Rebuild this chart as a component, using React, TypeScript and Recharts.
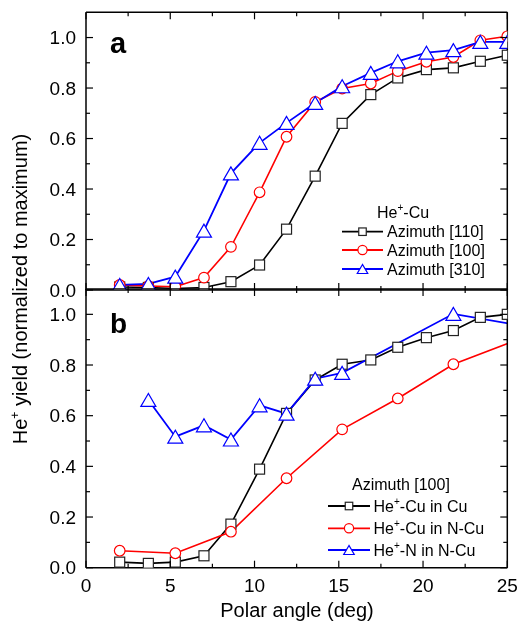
import React from "react";
import { LineChart, Line, XAxis, YAxis } from "recharts";

const FONT = '"Liberation Sans", Arial, Helvetica, sans-serif';

// polar angle (deg) of the measured points
const angles = [2.0, 3.7, 5.3, 7.0, 8.6, 10.3, 11.9, 13.6, 15.2, 16.9, 18.5, 20.2, 21.8, 23.4, 25.0];

// panel a: He+-Cu
const az110 = [0.012, 0.01, 0.006, 0.01, 0.033, 0.099, 0.241, 0.451, 0.66, 0.774, 0.84, 0.873, 0.88, 0.906, 0.93];
const az100 = [0.02, 0.016, 0.013, 0.049, 0.171, 0.387, 0.607, 0.745, 0.798, 0.818, 0.867, 0.904, 0.923, 0.989, 1.005];
const az310 = [0.02, 0.024, 0.053, 0.235, 0.462, 0.583, 0.662, 0.741, 0.807, 0.86, 0.906, 0.94, 0.95, 0.983, 0.983];

// panel b: azimuth [100]
const cuInCu = [0.022, 0.017, 0.022, 0.047, 0.172, 0.389, 0.609, 0.741, 0.803, 0.82, 0.87, 0.908, 0.936, 0.988, 1.0];
const cuInNCuAngles = [2.0, 5.3, 8.6, 11.9, 15.2, 18.5, 21.8, 26.8];
const cuInNCu = [0.067, 0.057, 0.142, 0.353, 0.546, 0.668, 0.803, 0.93];
const nInNCuAngles = [3.7, 5.3, 7.0, 8.6, 10.3, 11.9, 13.6, 15.2, 21.8, 26.8];
const nInNCu = [0.662, 0.517, 0.562, 0.506, 0.641, 0.608, 0.746, 0.769, 1.002, 0.944];

const xTicks = [0, 2.5, 5, 7.5, 10, 12.5, 15, 17.5, 20, 22.5, 25];
const yTicks = [0, 0.1, 0.2, 0.3, 0.4, 0.5, 0.6, 0.7, 0.8, 0.9, 1.0];

const pts = (xs: number[], ys: number[]) => xs.map((x, i) => ({ x, y: ys[i] }));

const BLACK = "#000000";
const RED = "#ff0000";
const BLUE = "#0000ff";

const isMajorX = (v: number) => Math.abs(v / 5 - Math.round(v / 5)) < 1e-6;
const isMajorY = (v: number) => Math.abs(v * 5 - Math.round(v * 5)) < 1e-6;

function xTick(side: "bottom" | "top", labels: boolean) {
  return (props: any) => {
    const { x, y, payload } = props;
    const v = payload.value;
    const major = isMajorX(v);
    const len = major ? 7 : 4;
    const dir = side === "bottom" ? -1 : 1;
    return (
      <g>
        <line x1={x} y1={y} x2={x} y2={y + dir * len} stroke="#000" strokeWidth={1.2} />
        {labels && major && (
          <text x={x} y={y + 24} textAnchor="middle" fontSize={19} fontFamily={FONT} fill="#000">
            {v}
          </text>
        )}
      </g>
    );
  };
}

function yTick(side: "left" | "right") {
  return (props: any) => {
    const { x, y, payload } = props;
    const v = payload.value;
    const major = isMajorY(v);
    const len = major ? 7 : 4;
    const dir = side === "left" ? 1 : -1;
    return (
      <g>
        <line x1={x} y1={y} x2={x + dir * len} y2={y} stroke="#000" strokeWidth={1.2} />
        {side === "left" && major && (
          <text x={x - 10} y={y + 6.5} textAnchor="end" fontSize={19} fontFamily={FONT} fill="#000">
            {v.toFixed(1)}
          </text>
        )}
      </g>
    );
  };
}

const Square = ({ cx, cy, s = 10, color = "#222" }: any) => (
  <rect x={cx - s / 2} y={cy - s / 2} width={s} height={s} fill="#fff" stroke={color} strokeWidth={1.2} />
);
const Circle = ({ cx, cy, r = 5.3, color = RED }: any) => (
  <circle cx={cx} cy={cy} r={r} fill="#fff" stroke={color} strokeWidth={1.2} />
);
const Triangle = ({ cx, cy, w = 15, h = 13, color = BLUE }: any) => (
  <polygon
    points={`${cx},${cy - h / 2} ${cx - w / 2},${cy + h / 2} ${cx + w / 2},${cy + h / 2}`}
    fill="#fff"
    stroke={color}
    strokeWidth={1.2}
  />
);

const squareDot = (p: any) => <Square key={p.index} cx={p.cx} cy={p.cy} />;
const circleDot = (p: any) => <Circle key={p.index} cx={p.cx} cy={p.cy} />;
const triangleDot = (p: any) => <Triangle key={p.index} cx={p.cx} cy={p.cy} />;

const axisLine = { stroke: "#000", strokeWidth: 1.5 };

// plot box in page pixels: x 86..507.3; panel a y 12.3..290, panel b y 289..567.7
function Panel({
  top,
  height,
  margin,
  xLabels,
  children,
}: {
  top: number;
  height: number;
  margin: any;
  xLabels: boolean;
  children: React.ReactNode;
}) {
  return (
    <div style={{ position: "absolute", left: 0, top }}>
      <LineChart width={518} height={height} margin={margin}>
        <XAxis xAxisId="bottom" type="number" dataKey="x" domain={[0, 25]} ticks={xTicks} interval={0}
          allowDataOverflow height={1} tickSize={0} tickMargin={0} tickLine={false} axisLine={axisLine}
          tick={xTick("bottom", xLabels)} />
        <XAxis xAxisId="top" orientation="top" type="number" dataKey="x" domain={[0, 25]} ticks={xTicks} interval={0}
          allowDataOverflow height={1} tickSize={0} tickMargin={0} tickLine={false} axisLine={axisLine}
          tick={xTick("top", false)} />
        <YAxis yAxisId="left" type="number" domain={[0, 1.1]} ticks={yTicks} interval={0}
          allowDataOverflow width={1} tickSize={0} tickMargin={0} tickLine={false} axisLine={axisLine}
          tick={yTick("left")} />
        <YAxis yAxisId="right" orientation="right" type="number" domain={[0, 1.1]} ticks={yTicks} interval={0}
          allowDataOverflow width={1} tickSize={0} tickMargin={0} tickLine={false} axisLine={axisLine}
          tick={yTick("right")} />
        {children}
      </LineChart>
    </div>
  );
}

const lineProps = {
  xAxisId: "bottom",
  yAxisId: "left",
  type: "linear" as const,
  dataKey: "y",
  isAnimationActive: false,
  strokeWidth: 1.6,
  activeDot: false as const,
};

function LegendRow({ x1, x2, y, tx, color, marker, children }: any) {
  const cx = (x1 + x2) / 2;
  return (
    <g>
      <line x1={x1} y1={y} x2={x2} y2={y} stroke={color} strokeWidth={1.8} />
      {marker === "square" && <Square cx={cx} cy={y} s={7.5} />}
      {marker === "circle" && <Circle cx={cx} cy={y} r={4.6} />}
      {marker === "triangle" && <Triangle cx={cx} cy={y} w={10.5} h={9} />}
      <text x={tx} y={y + 5.6} fontSize={16} fontFamily={FONT} fill="#000">
        {children}
      </text>
    </g>
  );
}

export default function App() {
  return (
    <div style={{ position: "fixed", left: 0, top: 0, width: 518, height: 622, overflow: "hidden", fontFamily: FONT }}>
      <Panel top={0} height={300} margin={{ top: 11.3, right: 9.7, bottom: 9, left: 85 }} xLabels={false}>
        <Line {...lineProps} data={pts(angles, az110)} stroke={BLACK} dot={squareDot} />
        <Line {...lineProps} data={pts(angles, az100)} stroke={RED} dot={circleDot} />
        <Line {...lineProps} data={pts(angles, az310)} stroke={BLUE} strokeWidth={1.8} dot={triangleDot} />
      </Panel>
      <Panel top={280} height={342} margin={{ top: 8, right: 9.7, bottom: 53.3, left: 85 }} xLabels={true}>
        <Line {...lineProps} data={pts(angles, cuInCu)} stroke={BLACK} dot={squareDot} />
        <Line {...lineProps} data={pts(cuInNCuAngles, cuInNCu)} stroke={RED} dot={circleDot} />
        <Line {...lineProps} data={pts(nInNCuAngles, nInNCu)} stroke={BLUE} strokeWidth={1.8} dot={triangleDot} />
      </Panel>

      <svg width={518} height={622} style={{ position: "absolute", left: 0, top: 0, pointerEvents: "none" }}>
        <text x={110} y={53} fontSize={29} fontWeight="bold" fontFamily={FONT} fill="#000">a</text>
        <text x={110} y={333} fontSize={28} fontWeight="bold" fontFamily={FONT} fill="#000">b</text>

        <text transform="translate(27,289) rotate(-90)" textAnchor="middle" fontSize={20} fontFamily={FONT} fill="#000">
          He<tspan dy={-8} fontSize={12}>+</tspan>
          <tspan dy={8}> yield (normalized to maximum)</tspan>
        </text>
        <text x={297} y={617} textAnchor="middle" fontSize={20} fontFamily={FONT} fill="#000">
          Polar angle (deg)
        </text>

        <text x={377} y={217.5} fontSize={16} fontFamily={FONT} fill="#000">
          He<tspan dy={-7} fontSize={10}>+</tspan>
          <tspan dy={7}>-Cu</tspan>
        </text>
        <LegendRow x1={342} x2={383} y={231.7} tx={387} color={BLACK} marker="square">Azimuth [110]</LegendRow>
        <LegendRow x1={342} x2={383} y={250} tx={387} color={RED} marker="circle">Azimuth [100]</LegendRow>
        <LegendRow x1={342} x2={383} y={269} tx={387} color={BLUE} marker="triangle">Azimuth [310]</LegendRow>

        <text x={352} y={489.7} fontSize={16} fontFamily={FONT} fill="#000">Azimuth [100]</text>
        <LegendRow x1={328} x2={370} y={506} tx={373.5} color={BLACK} marker="square">
          He<tspan dy={-7} fontSize={10}>+</tspan><tspan dy={7}>-Cu in Cu</tspan>
        </LegendRow>
        <LegendRow x1={328} x2={370} y={528.3} tx={373.5} color={RED} marker="circle">
          He<tspan dy={-7} fontSize={10}>+</tspan><tspan dy={7}>-Cu in N-Cu</tspan>
        </LegendRow>
        <LegendRow x1={328} x2={370} y={550} tx={373.5} color={BLUE} marker="triangle">
          He<tspan dy={-7} fontSize={10}>+</tspan><tspan dy={7}>-N in N-Cu</tspan>
        </LegendRow>
      </svg>
    </div>
  );
}
